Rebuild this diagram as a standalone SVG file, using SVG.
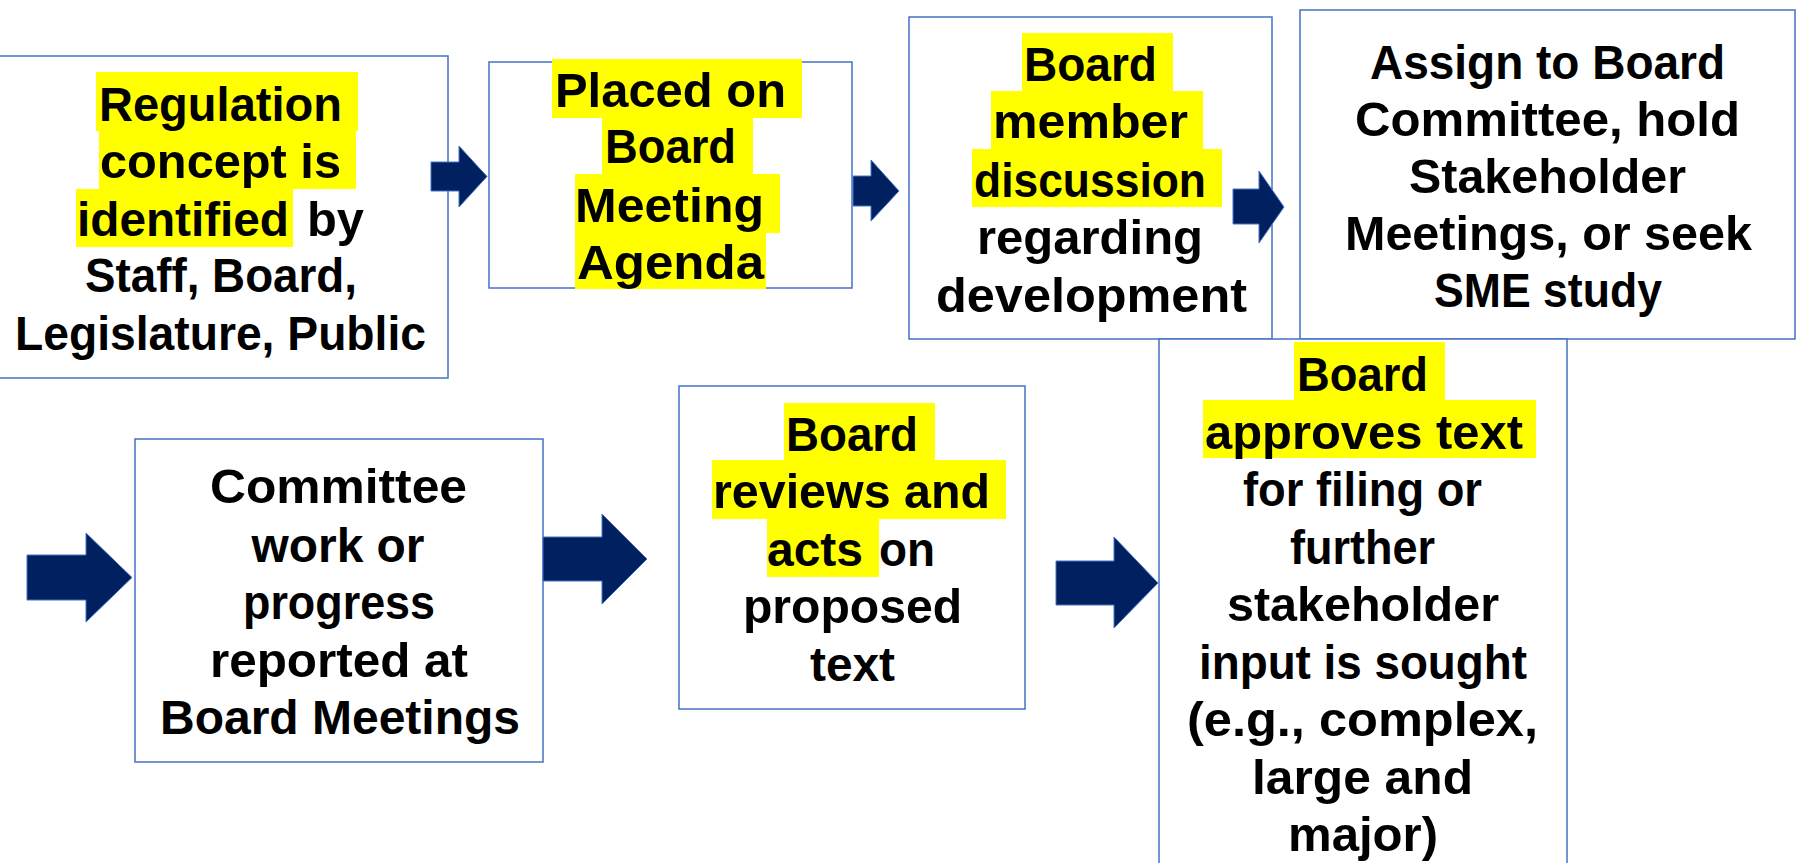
<svg xmlns="http://www.w3.org/2000/svg" width="1799" height="863" viewBox="0 0 1799 863">
  <style>
    .box { fill: #ffffff; stroke: #4472C4; stroke-width: 1.5; }
    .hl { fill: #ffff00; }
    .t { font-family: "Liberation Sans", Arial, sans-serif; font-weight: bold; font-size: 48px; fill: #000000; text-anchor: middle; }
    .ts { text-anchor: start; }
    .arrow { fill: #002060; stroke: #4472C4; stroke-width: 1; }
  </style>
  <rect x="0" y="0" width="1799" height="863" fill="#ffffff"/>

  <g id="nodes">
    <g id="n1">
      <rect class="box" x="-5" y="56" width="453" height="322"/>
      <rect class="hl" x="96" y="72" width="262" height="59"/>
      <rect class="hl" x="99" y="131" width="257" height="58"/>
      <rect class="hl" x="76" y="189" width="217" height="58"/>
      <text class="t" x="220.5" y="121" textLength="243" lengthAdjust="spacingAndGlyphs">Regulation</text>
      <text class="t" x="220.5" y="178" textLength="241" lengthAdjust="spacingAndGlyphs">concept is</text>
      <text class="t ts" x="77" y="236" textLength="212" lengthAdjust="spacingAndGlyphs">identified</text>
      <text class="t ts" x="307" y="236" textLength="57" lengthAdjust="spacingAndGlyphs">by</text>
      <text class="t" x="221" y="292" textLength="272" lengthAdjust="spacingAndGlyphs">Staff, Board,</text>
      <text class="t" x="220.5" y="350" textLength="411" lengthAdjust="spacingAndGlyphs">Legislature, Public</text>
    </g>

    <g id="n2">
      <rect class="box" x="489" y="62" width="363" height="226"/>
      <rect class="hl" x="552" y="59" width="250" height="59"/>
      <rect class="hl" x="602" y="118" width="151" height="56"/>
      <rect class="hl" x="575" y="174" width="205" height="59"/>
      <rect class="hl" x="575" y="233" width="191" height="56"/>
      <text class="t" x="670.5" y="107" textLength="231" lengthAdjust="spacingAndGlyphs">Placed on</text>
      <text class="t" x="670.5" y="163" textLength="131" lengthAdjust="spacingAndGlyphs">Board</text>
      <text class="t" x="669.5" y="222" textLength="189" lengthAdjust="spacingAndGlyphs">Meeting</text>
      <text class="t" x="670.5" y="279" textLength="187" lengthAdjust="spacingAndGlyphs">Agenda</text>
    </g>

    <g id="n3">
      <rect class="box" x="909" y="17" width="363" height="322"/>
      <rect class="hl" x="1022" y="33" width="151" height="58"/>
      <rect class="hl" x="991" y="91" width="212" height="58"/>
      <rect class="hl" x="972" y="149" width="250" height="58"/>
      <text class="t" x="1090.5" y="81" textLength="133" lengthAdjust="spacingAndGlyphs">Board</text>
      <text class="t" x="1090.5" y="138" textLength="195" lengthAdjust="spacingAndGlyphs">member</text>
      <text class="t" x="1090" y="197" textLength="232" lengthAdjust="spacingAndGlyphs">discussion</text>
      <text class="t" x="1090" y="254" textLength="226" lengthAdjust="spacingAndGlyphs">regarding</text>
      <text class="t" x="1091.5" y="312" textLength="311" lengthAdjust="spacingAndGlyphs">development</text>
    </g>

    <g id="n4">
      <rect class="box" x="1300" y="10" width="495" height="329"/>
      <text class="t" x="1547.5" y="79" textLength="355" lengthAdjust="spacingAndGlyphs">Assign to Board</text>
      <text class="t" x="1547.5" y="136" textLength="385" lengthAdjust="spacingAndGlyphs">Committee, hold</text>
      <text class="t" x="1547.5" y="193" textLength="277" lengthAdjust="spacingAndGlyphs">Stakeholder</text>
      <text class="t" x="1548.5" y="250" textLength="407" lengthAdjust="spacingAndGlyphs">Meetings, or seek</text>
      <text class="t" x="1548" y="307" textLength="228" lengthAdjust="spacingAndGlyphs">SME study</text>
    </g>

    <g id="n5">
      <rect class="box" x="135" y="439" width="408" height="323"/>
      <text class="t" x="338.5" y="503" textLength="257" lengthAdjust="spacingAndGlyphs">Committee</text>
      <text class="t" x="338" y="562" textLength="173" lengthAdjust="spacingAndGlyphs">work or</text>
      <text class="t" x="339" y="619" textLength="192" lengthAdjust="spacingAndGlyphs">progress</text>
      <text class="t" x="339" y="677" textLength="258" lengthAdjust="spacingAndGlyphs">reported at</text>
      <text class="t" x="340" y="734" textLength="360" lengthAdjust="spacingAndGlyphs">Board Meetings</text>
    </g>

    <g id="n6">
      <rect class="box" x="679" y="386" width="346" height="323"/>
      <rect class="hl" x="784" y="403" width="151" height="57"/>
      <rect class="hl" x="712" y="460" width="294" height="59"/>
      <rect class="hl" x="767" y="519" width="112" height="58"/>
      <text class="t" x="852" y="451" textLength="132" lengthAdjust="spacingAndGlyphs">Board</text>
      <text class="t" x="851.5" y="508" textLength="277" lengthAdjust="spacingAndGlyphs">reviews and</text>
      <text class="t ts" x="767" y="566" textLength="96" lengthAdjust="spacingAndGlyphs">acts</text>
      <text class="t ts" x="879" y="566" textLength="56" lengthAdjust="spacingAndGlyphs">on</text>
      <text class="t" x="852.5" y="623" textLength="219" lengthAdjust="spacingAndGlyphs">proposed</text>
      <text class="t" x="852.5" y="681" textLength="85" lengthAdjust="spacingAndGlyphs">text</text>
    </g>

    <g id="n7">
      <rect class="box" x="1159" y="339" width="408" height="540"/>
      <rect class="hl" x="1294" y="342" width="151" height="58"/>
      <rect class="hl" x="1203" y="400" width="333" height="58"/>
      <text class="t" x="1362.5" y="391" textLength="131" lengthAdjust="spacingAndGlyphs">Board</text>
      <text class="t" x="1364" y="448.5" textLength="318" lengthAdjust="spacingAndGlyphs">approves text</text>
      <text class="t" x="1362.5" y="506" textLength="239" lengthAdjust="spacingAndGlyphs">for filing or</text>
      <text class="t" x="1362.5" y="563.5" textLength="145" lengthAdjust="spacingAndGlyphs">further</text>
      <text class="t" x="1363" y="621" textLength="272" lengthAdjust="spacingAndGlyphs">stakeholder</text>
      <text class="t" x="1363" y="678.5" textLength="328" lengthAdjust="spacingAndGlyphs">input is sought</text>
      <text class="t" x="1362.5" y="736" textLength="351" lengthAdjust="spacingAndGlyphs">(e.g., complex,</text>
      <text class="t" x="1362.5" y="793.5" textLength="221" lengthAdjust="spacingAndGlyphs">large and</text>
      <text class="t" x="1363" y="851" textLength="150" lengthAdjust="spacingAndGlyphs">major)</text>
    </g>
  </g>

  <g id="connectors">
    <polygon class="arrow" points="431,162 459,162 459,146 487,176.5 459,207 459,191 431,191"/>
    <polygon class="arrow" points="853,176 871,176 871,160 899,191 871,221 871,206 853,206"/>
    <polygon class="arrow" points="1233,189 1259,189 1259,171 1284,207 1259,243 1259,224 1233,224"/>
    <polygon class="arrow" points="27,555 86,555 86,533 132,577.5 86,622 86,600 27,600"/>
    <polygon class="arrow" points="543,537 602,537 602,514 647,559 602,604 602,581 543,581"/>
    <polygon class="arrow" points="1056,561 1114,561 1114,537 1158,583 1114,628 1114,605 1056,605"/>
  </g>
</svg>
